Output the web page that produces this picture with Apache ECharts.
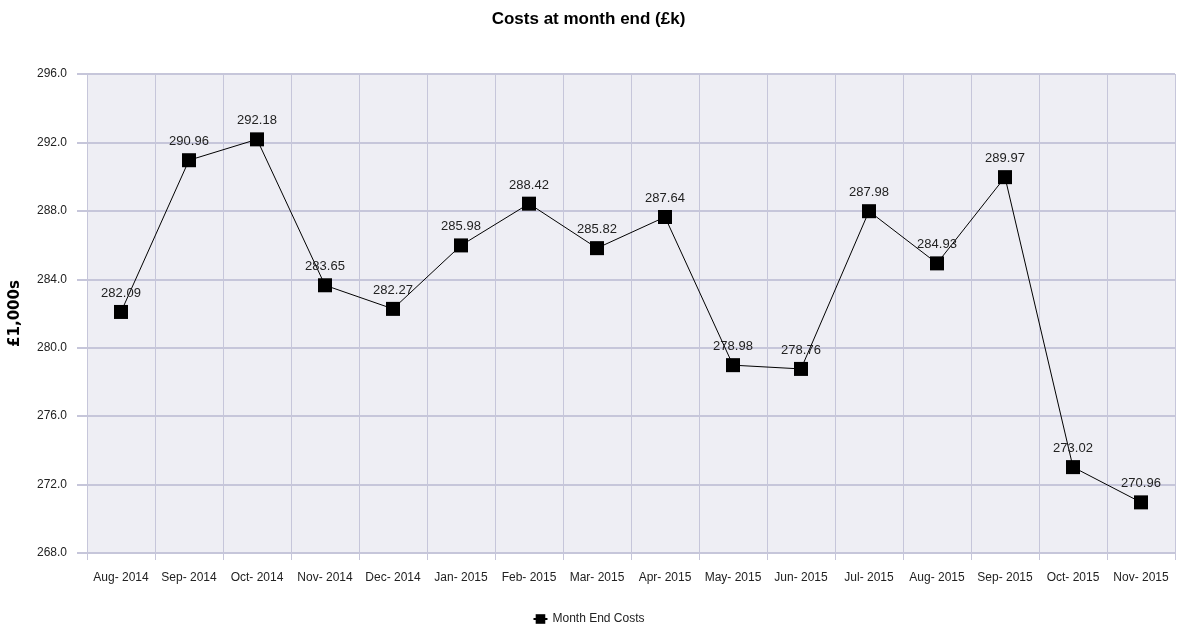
<!DOCTYPE html>
<html>
<head>
<meta charset="utf-8">
<script src="https://cdn.jsdelivr.net/npm/echarts@6/dist/echarts.min.js"></script>
<style>
  html, body { margin: 0; padding: 0; background: #fff; }
  #month-end-chart { width: 1177px; height: 626px; }
</style>
</head>
<body>
<div id="month-end-chart"></div>
<script>
var months = ['Aug- 2014', 'Sep- 2014', 'Oct- 2014', 'Nov- 2014', 'Dec- 2014', 'Jan- 2015', 'Feb- 2015', 'Mar- 2015',
    'Apr- 2015', 'May- 2015', 'Jun- 2015', 'Jul- 2015', 'Aug- 2015', 'Sep- 2015', 'Oct- 2015', 'Nov- 2015'];
var monthEndCosts = [282.09, 290.96, 292.18, 283.65, 282.27, 285.98, 288.42, 285.82,
    287.64, 278.98, 278.76, 287.98, 284.93, 289.97, 273.02, 270.96];
var yTicks = [268, 272, 276, 280, 284, 288, 292, 296];

var baseFont = '"Liberation Sans", Arial, sans-serif';
var gridColor = '#c6c6da';

var costChart = echarts.init(document.getElementById('month-end-chart'));

costChart.setOption({
    animation: false,
    textStyle: {
        fontFamily: baseFont
    },
    title: {
        text: 'Costs at month end (£k)',
        left: 'center',
        top: 6,
        textStyle: {
            fontFamily: baseFont,
            fontSize: 17,
            fontWeight: 'bold',
            color: '#000'
        }
    },
    legend: {
        data: ['Month End Costs'],
        top: 608,
        left: 'center',
        itemWidth: 14,
        itemHeight: 12,
        itemGap: 6,
        textStyle: {
            fontFamily: baseFont,
            fontSize: 12,
            color: '#222'
        }
    },
    grid: {
        left: 87,
        right: 2,
        top: 74,
        bottom: 73,
        show: true,
        backgroundColor: '#eeeef4',
        borderWidth: 0
    },
    xAxis: {
        type: 'category',
        data: months,
        boundaryGap: true,
        axisLine: {
            lineStyle: { color: gridColor, width: 2 }
        },
        axisTick: {
            show: true,
            length: 7,
            lineStyle: { color: gridColor, width: 1 }
        },
        axisLabel: {
            fontFamily: baseFont,
            fontSize: 12,
            color: '#222',
            margin: 19,
            interval: 0
        },
        splitLine: {
            show: true,
            lineStyle: { color: gridColor, width: 1 }
        }
    },
    yAxis: {
        type: 'value',
        min: yTicks[0],
        max: yTicks[yTicks.length - 1],
        interval: 4,
        name: '£1,000s',
        nameLocation: 'middle',
        nameGap: 64,
        nameRotate: 90,
        nameTextStyle: {
            fontSize: 15,
            fontWeight: 'bold',
            color: '#000',
            fontFamily: 'DejaVu Sans'
        },
        axisLine: { show: false },
        axisTick: {
            show: true,
            length: 10,
            lineStyle: { color: gridColor, width: 2 }
        },
        axisLabel: {
            fontFamily: baseFont,
            fontSize: 12,
            color: '#222',
            margin: 20,
            formatter: function(v) {
                return v.toFixed(1);
            }
        },
        splitLine: {
            show: true,
            lineStyle: { color: gridColor, width: 2 }
        }
    },
    series: [{
        name: 'Month End Costs',
        type: 'line',
        data: monthEndCosts,
        symbol: 'rect',
        symbolSize: 14,
        itemStyle: { color: '#000' },
        lineStyle: { color: '#000', width: 1 },
        label: {
            show: true,
            position: 'top',
            distance: 5,
            fontFamily: baseFont,
            fontSize: 13,
            color: '#222',
            formatter: function(p) {
                return p.value.toFixed(2);
            }
        }
    }]
});
</script>
</body>
</html>
